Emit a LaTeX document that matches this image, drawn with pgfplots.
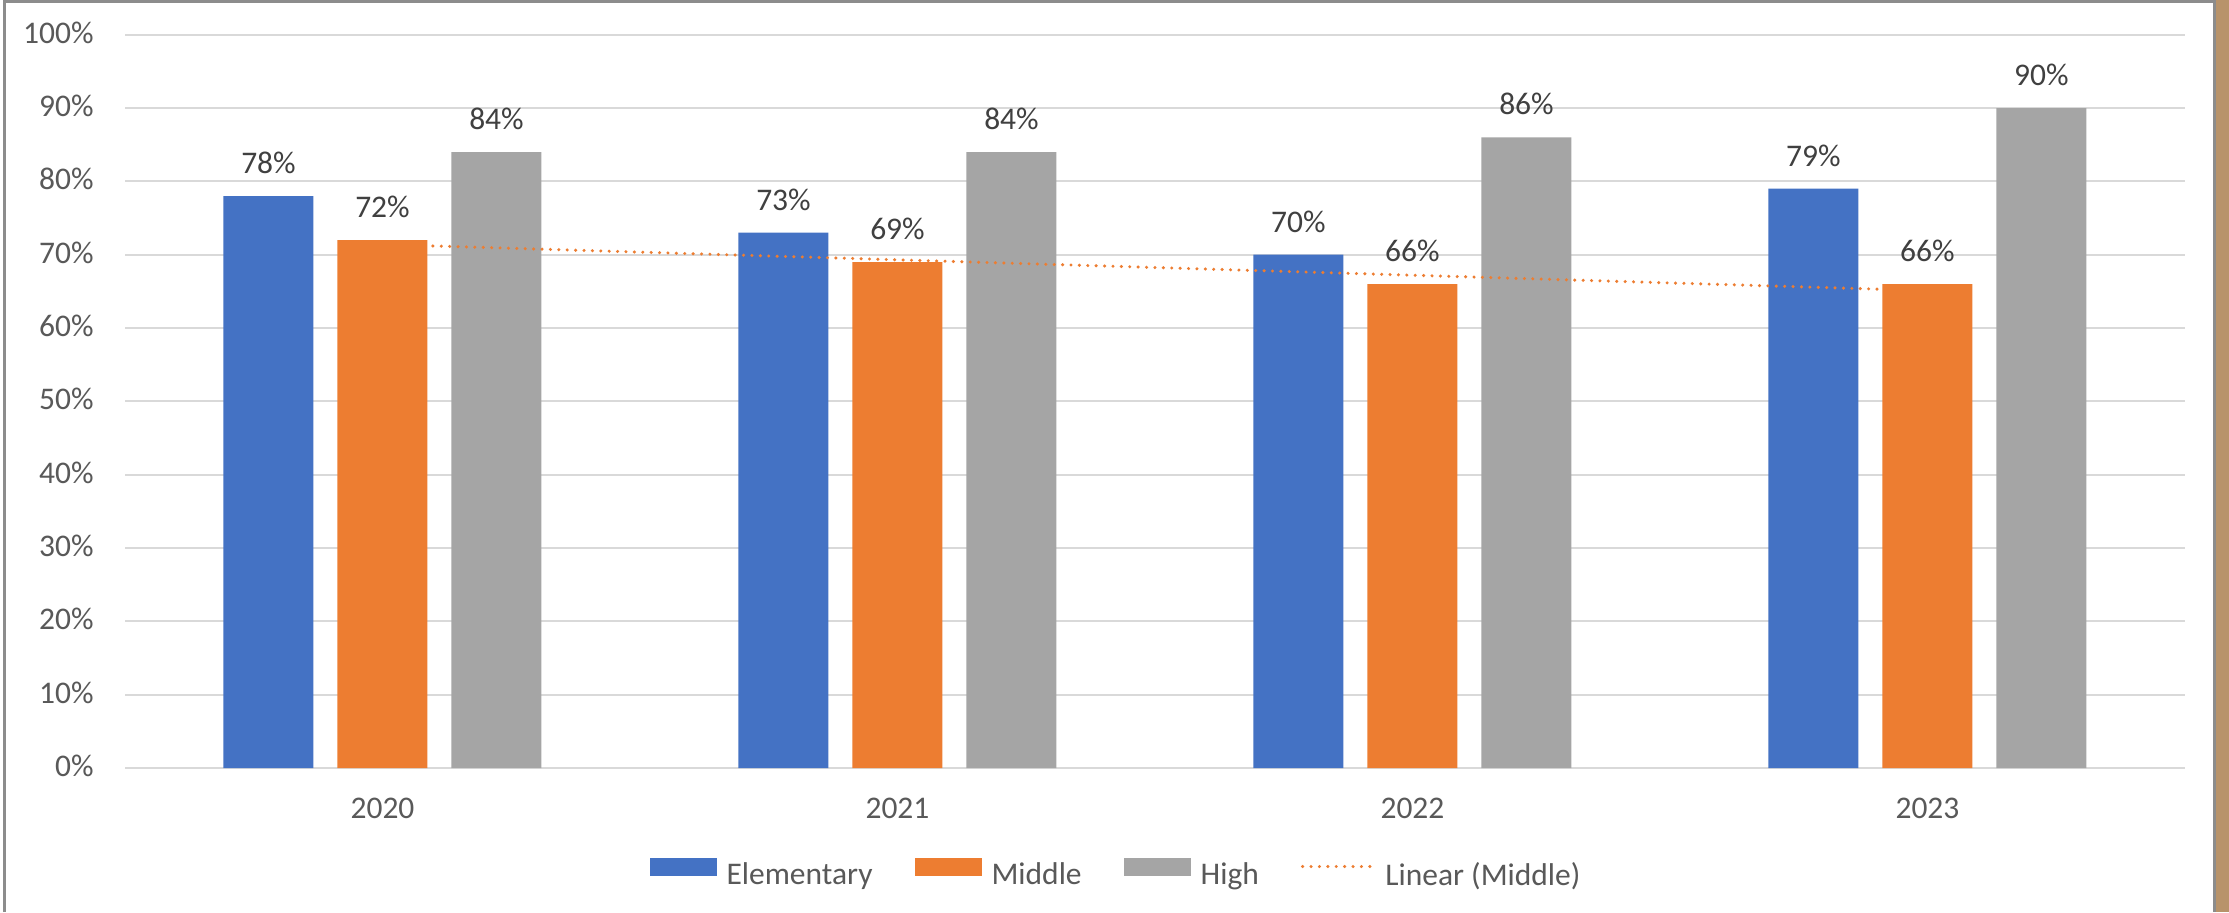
\documentclass[border=0pt]{standalone}
\usepackage{fontspec}
\setmainfont{Carlito}
\usepackage{pgfplots}
\pgfplotsset{compat=1.18}
\definecolor{elemblue}{HTML}{4472C4}
\definecolor{midorange}{HTML}{ED7D31}
\definecolor{highgray}{HTML}{A5A5A5}
\definecolor{gridgray}{HTML}{D9D9D9}
\definecolor{labelgray}{HTML}{595959}
\definecolor{valuegray}{HTML}{404040}
\definecolor{framegray}{HTML}{8C8C8C}
\definecolor{photo}{HTML}{B8936A}
\newcommand{\chartfont}{\fontsize{15.75}{19}\selectfont}
\pgfplotsset{
  barlegend/.style={legend image code/.code={\fill[#1] (0pt,0pt) rectangle (33.5pt,9pt);}},
  barlabels/.style={
    nodes near coords={\pgfmathprintnumber{\pgfplotspointmeta}\%},
    nodes near coords style={anchor=south, inner sep=0pt, yshift=11pt,
      text=valuegray, font=\chartfont}},
}
\begin{document}
\begin{tikzpicture}
\useasboundingbox (0,0) rectangle (1114.5pt,456pt);
\fill[white] (0,0) rectangle (1114.5pt,456pt);
\fill[photo] (1107pt,0) rectangle (1114.5pt,456pt);
\draw[framegray, line width=1.5pt] (2pt,0) -- (2pt,455pt) -- (1107pt,455pt) -- (1107pt,0);
\begin{axis}[
  at={(62.5pt,72pt)}, anchor=south west,
  scale only axis, width=1030pt, height=366.65pt,
  xmin=-0.5, xmax=3.5, ymin=0, ymax=100,
  ybar=12pt, bar width=45pt,
  axis line style={draw=none},
  major tick length=0pt,
  ymajorgrids, grid style={gridgray, line width=0.9pt},
  xtick={0,1,2,3}, xticklabels={2020,2021,2022,2023},
  ytick={0,10,20,30,40,50,60,70,80,90,100},
  yticklabels={0\%,10\%,20\%,30\%,40\%,50\%,60\%,70\%,80\%,90\%,100\%},
  /pgf/number format/assume math mode=true,
  tick label style={font=\chartfont, text=labelgray, inner sep=0pt},
  xticklabel style={anchor=base, yshift=-25pt},
  yticklabel style={anchor=base east, xshift=-15.5pt, yshift=-4.3pt},
  legend columns=-1,
  legend style={at={(0.4806,-0.1432)}, anchor=center, draw=none, fill=none,
    font=\chartfont, text=labelgray, inner sep=0pt,
    nodes={inner sep=0pt},
    /tikz/every odd column/.append style={column sep=5pt},
    /tikz/every even column/.append style={column sep=21pt}},
]
\addplot[fill=elemblue, draw=none, barlegend=elemblue, barlabels]
  coordinates {(0,78) (1,73) (2,70) (3,79)};
\addplot[fill=midorange, draw=none, barlegend=midorange, barlabels]
  coordinates {(0,72) (1,69) (2,66) (3,66)};
\addplot[fill=highgray, draw=none, barlegend=highgray, barlabels]
  coordinates {(0,84) (1,84) (2,86) (3,90)};
% linear trend of the Middle series
\addplot[sharp plot, no marks, midorange, line width=1.7pt, line cap=round,
  dash pattern=on 0pt off 4.2pt,
  legend image code/.code={\draw[midorange, line width=1.7pt, line cap=round,
    dash pattern=on 0pt off 4.2pt] (0pt,4.5pt) -- (35.5pt,4.5pt);}]
  coordinates {(0,71.4) (3,65.1)};
\legend{Elementary, Middle, High, Linear (Middle)}
\end{axis}
\end{tikzpicture}
\end{document}
